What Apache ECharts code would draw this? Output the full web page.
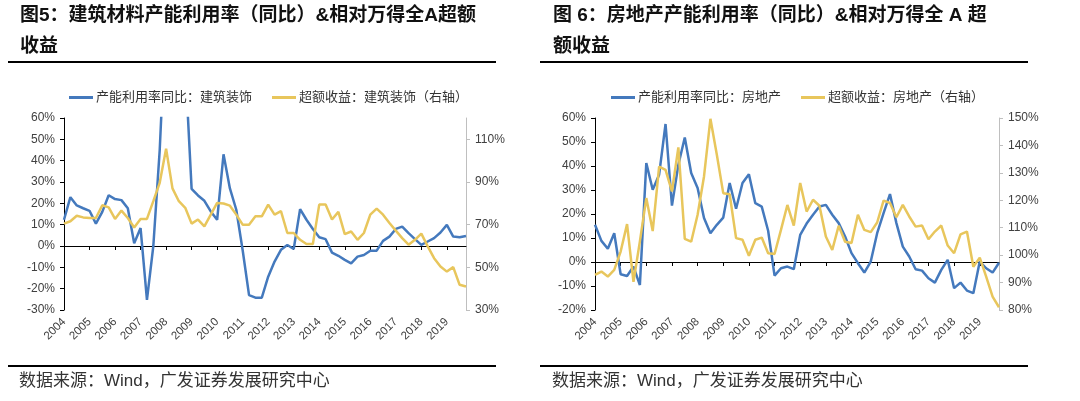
<!DOCTYPE html>
<html><head><meta charset="utf-8">
<script src="https://cdn.jsdelivr.net/npm/echarts@6/dist/echarts.min.js"></script>
<style>html,body{margin:0;padding:0;background:#fff}#c{width:1080px;height:401px}</style>
</head><body><div id="c"></div>
<script>
// ---- tick labels / categories ----
const years = ['2004','2005','2006','2007','2008','2009','2010','2011','2012','2013','2014','2015','2016','2017','2018','2019'];
const quarters = ['Q1','Q2','Q3','Q4'];
const categories = [];
years.forEach(y => quarters.forEach(q => categories.push(y + q)));

// ---- series names ----
const nameL1 = '产能利用率同比：建筑装饰';
const nameL2 = '超额收益：建筑装饰（右轴）';
const nameR1 = '产能利用率同比：房地产';
const nameR2 = '超额收益：房地产（右轴）';

// ---- left chart: 建筑装饰 (%, quarterly 2004Q1-2019Q4) ----
const bldCapYoY = [12.3,22.9,19,17.7,16.5,10.5,16,23.8,22,21.5,17.7,1.3,8.4,-25.3,0,45,
  110,150,130,85,26.8,23.7,21.2,16.2,12.3,43,27,17,-2,-23,-24.2,-24.2,
  -14.4,-7.3,-1.8,0.5,-1.4,17.3,12.3,8,4.1,3.2,-3.1,-4.6,-6.5,-8.1,-5,-4.2,
  -2.2,-2.2,2.4,4.4,8,9.1,6,3.2,0.5,2.1,3.7,6.3,9.9,4.4,4.1,4.7];
const bldExcess = [70.5,71.6,74.2,73.4,73.1,73.1,79.1,78.1,72.7,76.6,73.1,68.7,72.7,72.7,81,89.6,
  105.6,87,81,77.9,70.5,72.4,69.2,74.7,80.2,79.9,78.9,74.7,70,70,73.9,73.9,
  79.4,74.7,76.3,66.1,66.1,62.9,60.9,60.9,79.4,79.4,72.4,76,65.6,66.8,62.9,66.1,
  74.7,77.5,74.7,70.8,67.2,63.7,60.6,62.9,65.8,59.8,54.3,50.4,48,50.1,41.8,41];

// ---- right chart: 房地产 ----
const reCapYoY = [15.5,8.8,5.5,12,-5.1,-5.8,-1.9,-9.6,41.2,30.1,36.4,57.5,23.5,40.5,51.9,37.1,
  30.8,18.3,12,15.5,18.5,32.9,22.2,32.9,36.6,24.5,23.1,13,-5.7,-2.6,-1.9,-3,
  11.3,16,19.7,23.1,23.8,19.7,16.2,10.6,3.7,-0.5,-4.4,0.2,12,20.4,28.3,16.2,
  6.4,2.3,-3,-3.6,-6.8,-8.6,-3.3,0.9,-10.9,-8.6,-11.9,-13,0.2,-2.6,-4.4,-0.3];
const reExcess = [92.8,94,92.2,94.6,101.3,111.3,90.3,105,120.8,108.8,132.3,131.1,123.2,139.3,105.9,104.9,
  114.7,128.7,149.7,136.6,122.6,122.2,106.2,105.6,99.8,105.6,106.4,100.7,100.4,109.2,118.3,110.8,
  126.3,115.9,120.2,118,106.8,101.9,110.7,104.9,104.4,114.7,109.2,108.4,111.9,119.9,119,113.8,
  118.3,114.1,110.4,110.8,105.8,108.6,110.8,103.5,100.7,107.6,108.6,95.8,99.1,92.2,84.9,81];

// ---- axis label values ----
const leftRightTicks = [30,50,70,90,110];
const rightRightTicks = [80,90,100,110,120,130,140,150];

// ---- texts ----
const titleL1 = '图5：建筑材料产能利用率（同比）&相对万得全A超额';
const titleL2 = '收益';
const titleR1 = '图 6：房地产产能利用率（同比）&相对万得全 A 超';
const titleR2 = '额收益';
const sourceText = '数据来源：Wind，广发证券发展研究中心';

const BLUE = '#4479BD';
const YELLOW = '#E8C65C';
const FONT = '"Liberation Sans", Arial, "Noto Sans CJK SC", sans-serif';
const CJK = '"Liberation Sans", "Noto Sans CJK SC", sans-serif';

function labelAxis(grid) {
  return {
    gridIndex: grid, type: 'category', data: categories, boundaryGap: false, position: 'bottom',
    axisLine: { show: false, onZero: false }, axisTick: { show: false },
    axisLabel: { interval: 3, rotate: 45, margin: 10, fontSize: 11.5, color: '#404040', fontFamily: FONT,
      formatter: v => v.slice(0, 4) },
    splitLine: { show: false }
  };
}
function zeroAxis(grid) {
  return {
    gridIndex: grid, type: 'category', data: categories, boundaryGap: false, position: 'bottom',
    axisLine: { show: true, onZero: true, lineStyle: { color: '#000', width: 1 } },
    axisTick: { show: true, interval: 3, length: 4, inside: false, lineStyle: { color: '#000' } },
    axisLabel: { show: false }, splitLine: { show: false }
  };
}
function valAxis(grid, pos, min, max, color, custom) {
  const ax = {
    gridIndex: grid, type: 'value', position: pos, min: min, max: max, interval: 10,
    axisLine: { show: true, lineStyle: { color: color, width: 1 } },
    axisTick: { show: true, length: 4, lineStyle: { color: color } },
    axisLabel: { fontSize: 12, color: '#404040', fontFamily: FONT, margin: 9,
      formatter: v => (custom && custom.indexOf(v) < 0) ? '' : v + '%' },
    splitLine: { show: false }
  };
  if (custom) { ax.axisLabel.customValues = custom; ax.axisTick.customValues = custom; }
  return ax;
}
function lineSeries(name, xi, yi, data, color) {
  return { name: name, type: 'line', xAxisIndex: xi, yAxisIndex: yi, data: data,
    symbol: 'none', showSymbol: false, clip: true, animation: false,
    lineStyle: { color: color, width: 2.5 }, itemStyle: { color: color } };
}
function legend(left, names) {
  return { left: left, top: 86, data: names, icon: 'rect', itemWidth: 24, itemHeight: 3, itemGap: 20,
    textStyle: { fontSize: 13, color: '#333', fontFamily: CJK, padding: [0,0,0,-2] } };
}
function txt(x, y, text, font, fill) {
  return { type: 'text', left: x, top: y, style: { text: text, font: font, fill: fill } };
}
function hline(x1, x2, y) {
  return { type: 'line', shape: { x1: x1, y1: y, x2: x2, y2: y }, style: { stroke: '#000', lineWidth: 2 } };
}

const chart = echarts.init(document.getElementById('c'));
chart.setOption({
  animation: false,
  backgroundColor: '#fff',
  grid: [
    { left: 64, right: 614, top: 118, bottom: 91 },
    { left: 595, right: 81, top: 118, bottom: 91 }
  ],
  legend: [ legend(64, [nameL1, nameL2]), legend(606, [nameR1, nameR2]) ],
  xAxis: [ labelAxis(0), zeroAxis(0), labelAxis(1), zeroAxis(1) ],
  yAxis: [
    valAxis(0, 'left', -30, 60, '#000', null),
    valAxis(0, 'right', 30, 120, '#bfbfbf', leftRightTicks),
    valAxis(1, 'left', -20, 60, '#000', null),
    valAxis(1, 'right', 80, 150, '#bfbfbf', rightRightTicks)
  ],
  series: [
    lineSeries(nameL1, 0, 0, bldCapYoY, BLUE),
    lineSeries(nameL2, 0, 1, bldExcess, YELLOW),
    lineSeries(nameR1, 2, 2, reCapYoY, BLUE),
    lineSeries(nameR2, 2, 3, reExcess, YELLOW)
  ],
  graphic: [
    txt(20, 6, titleL1, 'bold 19px ' + CJK, '#111'),
    txt(20, 37, titleL2, 'bold 19px ' + CJK, '#111'),
    hline(8, 496, 62),
    txt(553, 6, titleR1, 'bold 19px ' + CJK, '#111'),
    txt(553, 37, titleR2, 'bold 19px ' + CJK, '#111'),
    hline(540, 1028, 62),
    hline(8, 496, 366),
    txt(19, 373, sourceText, '17px ' + CJK, '#333'),
    hline(540, 1028, 366),
    txt(552, 373, sourceText, '17px ' + CJK, '#333')
  ]
});
</script></body></html>
